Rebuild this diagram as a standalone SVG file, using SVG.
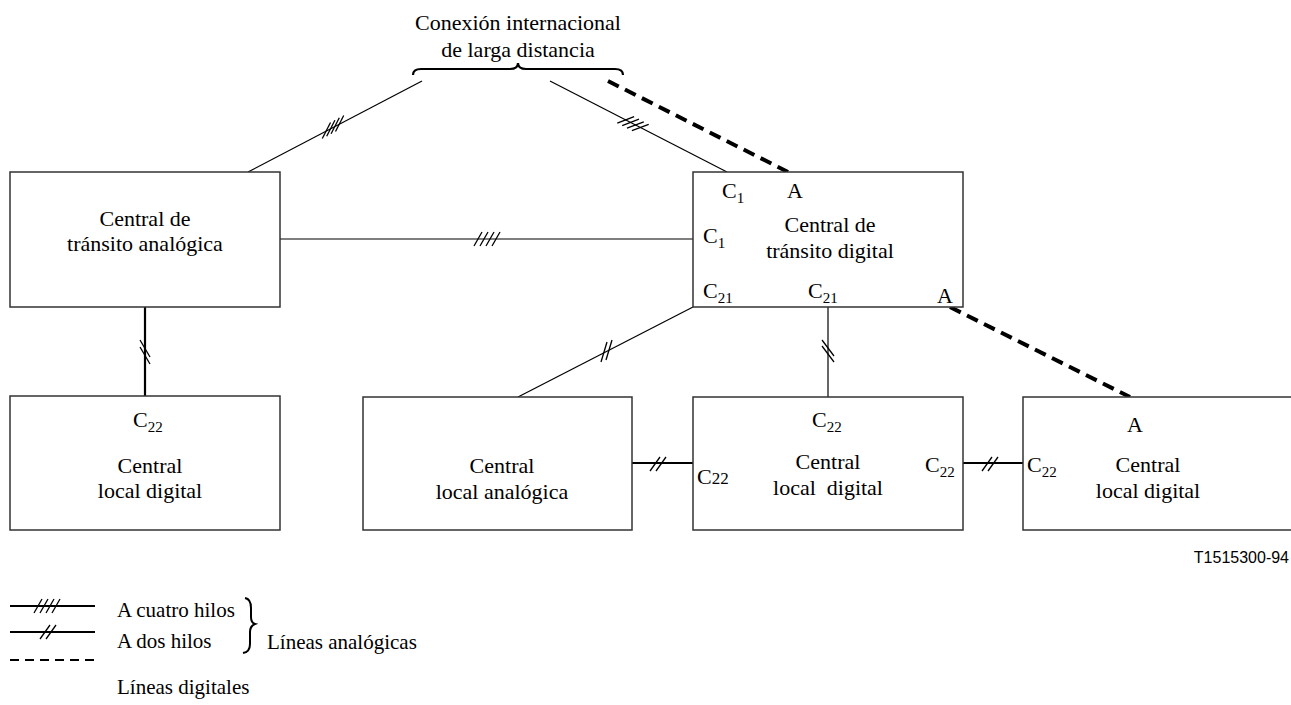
<svg xmlns="http://www.w3.org/2000/svg" width="1291" height="705" viewBox="0 0 1291 705" font-family="'Liberation Serif', 'DejaVu Serif', serif">
<style>
text{font-family:'Liberation Serif','DejaVu Serif',serif;font-size:22px;fill:#000}
.c{text-anchor:middle}
.sub{font-size:15px}
.box{fill:#fff;stroke:#333;stroke-width:1.5}
.thin{stroke:#000;stroke-width:1.2;fill:none}
.med{stroke:#000;stroke-width:2.2;fill:none}
.dig{stroke:#000;stroke-width:4;stroke-dasharray:12 7;fill:none}
.h{stroke:#000;stroke-width:1.3}
text.code{font-family:'Liberation Sans',Arial,sans-serif;font-size:16px}
.lg{font-size:21px}
</style>
<rect width="1291" height="705" fill="#fff"/>
<g id="connectors">
  <line class="thin" x1="248" y1="172" x2="422" y2="81"/>
  <line class="thin" x1="550" y1="81" x2="727" y2="172"/>
  <line class="dig" x1="608" y1="81" x2="788" y2="172"/>
  <line class="thin" x1="280" y1="239" x2="693" y2="239"/>
  <line class="med" x1="145" y1="307" x2="145" y2="396"/>
  <line class="thin" x1="693" y1="307" x2="518" y2="397"/>
  <line class="thin" x1="828" y1="307" x2="828" y2="397"/>
  <line class="dig" x1="950" y1="307" x2="1130" y2="397"/>
  <line class="med" x1="632" y1="463" x2="693" y2="463"/>
  <line class="med" x1="963" y1="463" x2="1023" y2="463"/>
  <g class="h">
    <line x1="322.3" y1="138.5" x2="330.5" y2="122.5"/>
    <line x1="326.7" y1="136.2" x2="334.9" y2="120.2"/>
    <line x1="331.1" y1="133.8" x2="339.3" y2="117.8"/>
    <line x1="335.5" y1="131.5" x2="343.7" y2="115.5"/>
    <line x1="617.3" y1="123.1" x2="634.1" y2="116.7"/>
    <line x1="622.2" y1="125.6" x2="639.0" y2="119.2"/>
    <line x1="627.0" y1="128.2" x2="643.8" y2="121.8"/>
    <line x1="631.9" y1="130.7" x2="648.7" y2="124.3"/>
    <line x1="474" y1="246" x2="482" y2="232"/>
    <line x1="480" y1="246" x2="488" y2="232"/>
    <line x1="486" y1="246" x2="494" y2="232"/>
    <line x1="492" y1="246" x2="500" y2="232"/>
    <line x1="140" y1="340" x2="150" y2="357"/>
    <line x1="140" y1="347" x2="150" y2="364"/>
    <line x1="601" y1="362" x2="607" y2="342"/>
    <line x1="606" y1="360" x2="612" y2="340"/>
    <line x1="822" y1="340" x2="834" y2="356"/>
    <line x1="822" y1="346" x2="834" y2="362"/>
    <line x1="650" y1="471" x2="660" y2="457"/>
    <line x1="656" y1="471" x2="666" y2="457"/>
    <line x1="982" y1="471" x2="992" y2="457"/>
    <line x1="988" y1="471" x2="998" y2="457"/>
  </g>
</g>
<g id="intl">
  <text class="c" x="518" y="30">Conexión internacional</text>
  <text class="c" x="518" y="57">de larga distancia</text>
  <path class="med" d="M413,75 Q413,69 421,69 L510,69 Q518,69 518,63 Q518,69 526,69 L615,69 Q623,69 623,75"/>
</g>
<g id="transito-analogica">
  <rect class="box" x="10" y="172" width="270" height="135"/>
  <text class="c" x="145" y="226">Central de</text>
  <text class="c" x="145" y="251">tránsito analógica</text>
</g>
<g id="transito-digital">
  <rect class="box" x="693" y="172" width="270" height="135"/>
  <text x="722" y="198">C<tspan class="sub" dy="5">1</tspan></text>
  <text x="787" y="198">A</text>
  <text class="c" x="830" y="232">Central de</text>
  <text class="c" x="830" y="258">tránsito digital</text>
  <text x="703" y="243">C<tspan class="sub" dy="5">1</tspan></text>
  <text x="703" y="298">C<tspan class="sub" dy="5">21</tspan></text>
  <text x="808" y="298">C<tspan class="sub" dy="5">21</tspan></text>
  <text x="937" y="303">A</text>
</g>
<g id="local-digital-1">
  <rect class="box" x="10" y="396" width="270" height="134"/>
  <text x="133" y="427">C<tspan class="sub" dy="5">22</tspan></text>
  <text class="c" x="150" y="473">Central</text>
  <text class="c" x="150" y="498">local digital</text>
</g>
<g id="local-analogica">
  <rect class="box" x="363" y="397" width="269" height="133"/>
  <text class="c" x="502" y="473">Central</text>
  <text class="c" x="502" y="499">local analógica</text>
</g>
<g id="local-digital-2">
  <rect class="box" x="693" y="397" width="270" height="133"/>
  <text x="812" y="427">C<tspan class="sub" dy="5">22</tspan></text>
  <text class="c" x="828" y="469">Central</text>
  <text class="c" x="828" y="495" xml:space="preserve">local  digital</text>
  <text x="697" y="484">C<tspan style="font-size:17px">22</tspan></text>
  <text x="925" y="472">C<tspan class="sub" dy="5">22</tspan></text>
</g>
<g id="local-digital-3">
  <rect class="box" x="1023" y="397" width="290" height="133"/>
  <text x="1127" y="432">A</text>
  <text class="c" x="1148" y="472">Central</text>
  <text class="c" x="1148" y="498">local digital</text>
  <text x="1027" y="472">C<tspan class="sub" dy="5">22</tspan></text>
</g>
<text class="code" x="1289" y="563" text-anchor="end">T1515300-94</text>
<g id="legend">
  <line class="med" x1="10" y1="606" x2="95" y2="606"/>
  <g class="h">
    <line x1="34" y1="613" x2="42" y2="599"/>
    <line x1="40" y1="613" x2="48" y2="599"/>
    <line x1="46" y1="613" x2="54" y2="599"/>
    <line x1="52" y1="613" x2="60" y2="599"/>
    <line x1="40" y1="639" x2="50" y2="625"/>
    <line x1="46" y1="639" x2="56" y2="625"/>
  </g>
  <line class="med" x1="10" y1="632" x2="95" y2="632"/>
  <line x1="10" y1="660" x2="95" y2="660" stroke="#000" stroke-width="2" stroke-dasharray="9 6"/>
  <text class="lg" x="117" y="617">A cuatro hilos</text>
  <text class="lg" x="117" y="648">A dos hilos</text>
  <text class="lg" x="267" y="649">Líneas analógicas</text>
  <text class="lg" x="117" y="694">Líneas digitales</text>
  <path d="M245,598 Q251,599 251,608 L251,617 Q251,623 255,624 Q250,626 250,632 L250,644 Q250,652 243,653" stroke="#000" stroke-width="2" fill="none"/>
</g>
</svg>
